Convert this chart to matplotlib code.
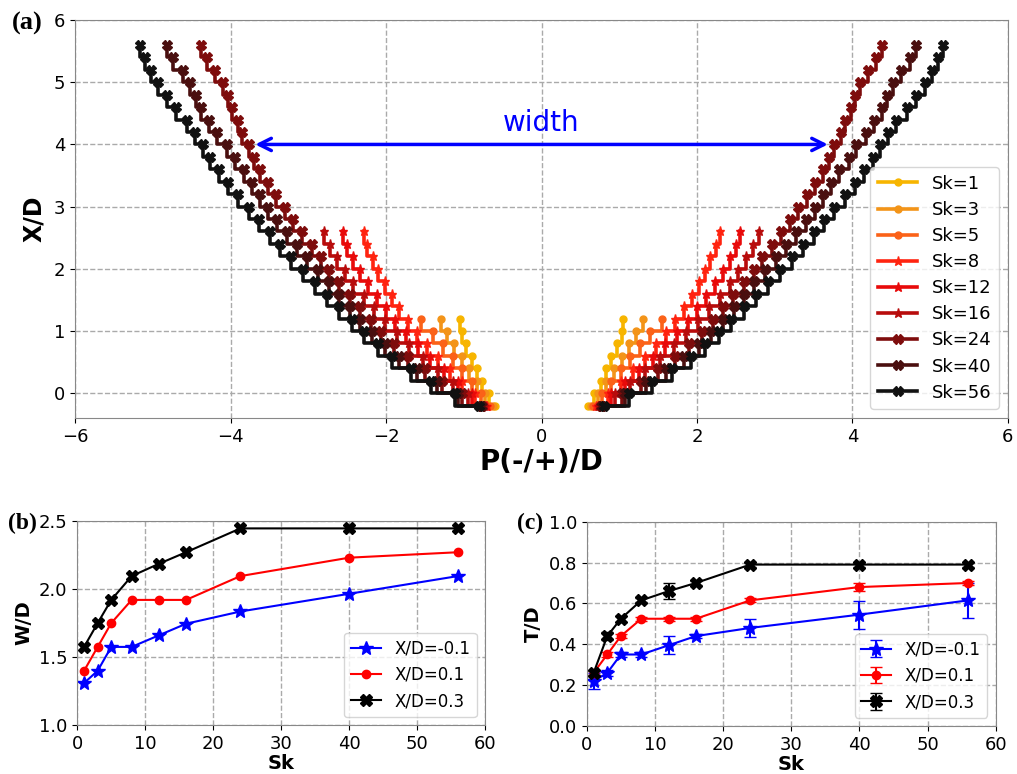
import numpy as np
import matplotlib
matplotlib.use('Agg')
import matplotlib.pyplot as plt

# ---- data (a): half-width of the spread ----
x_short = [-0.2, 0.0, 0.2, 0.4, 0.6, 0.8, 1.0, 1.2]
x_mid = [-0.2, 0.0, 0.2, 0.4, 0.6, 0.8, 1.0, 1.2, 1.4, 1.6, 1.8, 2.0, 2.2, 2.4, 2.6]
x_long = [-0.2, 0.0, 0.2, 0.4, 0.6, 0.8, 1.0, 1.2, 1.4, 1.6, 1.8, 2.0, 2.2, 2.4, 2.6,
          2.8, 3.0, 3.2, 3.4, 3.6, 3.8, 4.0, 4.2, 4.4, 4.6, 4.8, 5.0, 5.2, 5.4, 5.6]

p_sk1 = [0.60, 0.68, 0.76, 0.83, 0.90, 0.97, 1.03, 1.05]
p_sk3 = [0.63, 0.73, 0.83, 0.93, 1.03, 1.13, 1.22, 1.30]
p_sk5 = [0.66, 0.78, 0.90, 1.02, 1.14, 1.27, 1.40, 1.55]
p_sk8 = [0.70, 0.86, 1.02, 1.18, 1.33, 1.47, 1.60, 1.72, 1.83, 1.93, 2.02, 2.10, 2.17, 2.24, 2.29]
p_sk12 = [0.72, 0.90, 1.08, 1.26, 1.43, 1.59, 1.74, 1.88, 2.00, 2.12, 2.23, 2.33, 2.42, 2.50, 2.55]
p_sk16 = [0.74, 0.94, 1.14, 1.33, 1.52, 1.70, 1.86, 2.01, 2.15, 2.29, 2.42, 2.53, 2.63, 2.72, 2.80]
p_sk24 = [0.76, 1.03, 1.28, 1.50, 1.72, 1.90, 2.06, 2.20, 2.33, 2.46, 2.60, 2.73, 2.84, 2.96, 3.08,
          3.20, 3.30, 3.42, 3.52, 3.62, 3.70, 3.76, 3.85, 3.90, 3.98, 4.03, 4.10, 4.20, 4.30, 4.38]
p_sk40 = [0.78, 1.08, 1.35, 1.60, 1.83, 2.02, 2.18, 2.33, 2.47, 2.60, 2.74, 2.88, 3.02, 3.15, 3.28,
          3.40, 3.52, 3.62, 3.72, 3.83, 3.95, 4.05, 4.17, 4.28, 4.38, 4.45, 4.52, 4.62, 4.74, 4.82]
p_sk56 = [0.80, 1.12, 1.42, 1.68, 1.92, 2.10, 2.28, 2.44, 2.60, 2.76, 2.92, 3.07, 3.22, 3.36, 3.50,
          3.63, 3.76, 3.90, 4.03, 4.15, 4.26, 4.36, 4.46, 4.56, 4.70, 4.82, 4.93, 5.02, 5.10, 5.17]

sk_labels = ['Sk=1', 'Sk=3', 'Sk=5', 'Sk=8', 'Sk=12', 'Sk=16', 'Sk=24', 'Sk=40', 'Sk=56']
curves = [(x_short, p_sk1), (x_short, p_sk3), (x_short, p_sk5),
          (x_mid, p_sk8), (x_mid, p_sk12), (x_mid, p_sk16),
          (x_long, p_sk24), (x_long, p_sk40), (x_long, p_sk56)]
colors = ['#f7b500', '#f39418', '#fb6218', '#ff2410', '#e80a0a', '#b80c0c',
          '#7e0c0c', '#4a0f0f', '#111111']
markers = ['o', 'o', 'o', '*', '*', '*', 'X', 'X', 'X']

# ---- data (b), (c) ----
sk = [1, 3, 5, 8, 12, 16, 24, 40, 56]
wd_m01 = [1.31, 1.40, 1.575, 1.575, 1.66, 1.745, 1.835, 1.965, 2.095]
wd_p01 = [1.40, 1.575, 1.75, 1.92, 1.92, 1.92, 2.095, 2.23, 2.27]
wd_p03 = [1.575, 1.75, 1.92, 2.095, 2.185, 2.27, 2.445, 2.445, 2.445]

td_m01 = [0.22, 0.26, 0.35, 0.35, 0.395, 0.44, 0.48, 0.545, 0.615]
td_p01 = [0.26, 0.35, 0.44, 0.525, 0.525, 0.525, 0.615, 0.68, 0.70]
td_p03 = [0.26, 0.44, 0.525, 0.615, 0.66, 0.70, 0.79, 0.79, 0.79]
err_m01 = [0.04, 0.015, 0.01, 0.01, 0.045, 0.01, 0.045, 0.068, 0.085]
err_p01 = [0.01, 0.01, 0.01, 0.01, 0.01, 0.01, 0.01, 0.02, 0.01]
err_p03 = [0.01, 0.02, 0.015, 0.01, 0.04, 0.01, 0.01, 0.01, 0.01]

fig = plt.figure(figsize=(10.17, 7.74), dpi=100)
grid_kw = dict(color='#aaaaaa', linestyle='--', linewidth=1.0)


def frame(ax):
    for s in ax.spines.values():
        s.set_color('#888888')
    ax.grid(True, **grid_kw)
    ax.set_axisbelow(True)


# (a)
ax = fig.add_axes([0.074, 0.46, 0.917, 0.514])
for (xs, ps), c, m, lab in zip(curves, colors, markers, sk_labels):
    ps = np.array(ps)
    ms = 5 if m == 'o' else 6.5
    ax.plot(ps, xs, color=c, marker=m, ms=ms, lw=2.6, drawstyle='steps-post', label=lab)
    ax.plot(-ps, xs, color=c, marker=m, ms=ms, lw=2.6, drawstyle='steps-post')
ax.annotate('', xy=(-3.72, 4.0), xytext=(3.72, 4.0),
            arrowprops=dict(arrowstyle='<->', color='blue', lw=2.5, mutation_scale=22))
ax.text(0, 4.12, 'width', color='blue', fontsize=20, ha='center', va='bottom')
ax.set_xlim(-6, 6)
ax.set_ylim(-0.4, 6)
ax.set_xticks([-6, -4, -2, 0, 2, 4, 6])
ax.set_yticks([0, 1, 2, 3, 4, 5, 6])
ax.tick_params(labelsize=13)
ax.set_xlabel('P(-/+)/D', fontsize=20, fontweight='bold', labelpad=2)
ax.set_ylabel('X/D', fontsize=17, fontweight='bold', labelpad=6)
frame(ax)
ax.legend(loc='lower right', fontsize=13, handlelength=2.2, labelspacing=0.45)
fig.text(0.012, 0.962, '(a)', fontsize=19, fontweight='bold', family='Liberation Serif')

# (b)
axb = fig.add_axes([0.076, 0.063, 0.401, 0.264])
axb.plot(sk, wd_m01, color='blue', marker='*', ms=10, lw=1.5, label='X/D=-0.1')
axb.plot(sk, wd_p01, color='red', marker='o', ms=6, lw=1.5, label='X/D=0.1')
axb.plot(sk, wd_p03, color='black', marker='X', ms=9, lw=1.5, label='X/D=0.3')
axb.set_xlim(0, 60)
axb.set_ylim(1.0, 2.5)
axb.set_yticks([1.0, 1.5, 2.0, 2.5])
axb.tick_params(labelsize=13)
axb.set_xlabel('Sk', fontsize=14, fontweight='bold', labelpad=1)
axb.set_ylabel('W/D', fontsize=14, fontweight='bold')
frame(axb)
axb.legend(loc='lower right', fontsize=12, handlelength=1.8)
fig.text(0.008, 0.316, '(b)', fontsize=17, fontweight='bold', family='Liberation Serif')

# (c)
axc = fig.add_axes([0.577, 0.062, 0.402, 0.264])
axc.errorbar(sk, td_m01, yerr=err_m01, color='blue', marker='*', ms=10, lw=1.5,
             capsize=4, label='X/D=-0.1')
axc.errorbar(sk, td_p01, yerr=err_p01, color='red', marker='o', ms=6, lw=1.5,
             capsize=4, label='X/D=0.1')
axc.errorbar(sk, td_p03, yerr=err_p03, color='black', marker='X', ms=9, lw=1.5,
             capsize=4, label='X/D=0.3')
axc.set_xlim(0, 60)
axc.set_ylim(0, 1.0)
axc.set_yticks([0.0, 0.2, 0.4, 0.6, 0.8, 1.0])
axc.tick_params(labelsize=13)
axc.set_xlabel('Sk', fontsize=14, fontweight='bold', labelpad=1)
axc.set_ylabel('T/D', fontsize=14, fontweight='bold')
frame(axc)
axc.legend(loc='lower right', fontsize=12, handlelength=1.8)
fig.text(0.508, 0.316, '(c)', fontsize=17, fontweight='bold', family='Liberation Serif')

fig.savefig('out.png', dpi=100)
